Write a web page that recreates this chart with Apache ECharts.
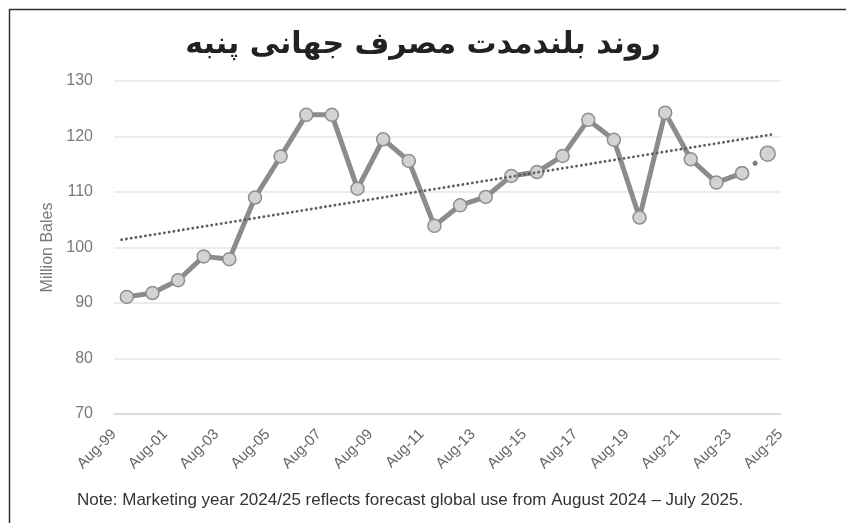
<!DOCTYPE html>
<html>
<head>
<meta charset="utf-8">
<style>
  html, body { margin: 0; padding: 0; background: #fff; }
  #chart { width: 846px; height: 523px; }
</style>
<script src="https://cdn.jsdelivr.net/npm/echarts@6/dist/echarts.min.js"></script>
</head>
<body>
<div id="chart"></div>
<script>
// Marketing years (August–July), world cotton use in million bales
const marketingYears = [
  '1999/00','2000/01','2001/02','2002/03','2003/04','2004/05','2005/06','2006/07',
  '2007/08','2008/09','2009/10','2010/11','2011/12','2012/13','2013/14','2014/15',
  '2015/16','2016/17','2017/18','2018/19','2019/20','2020/21','2021/22','2022/23',
  '2023/24','2024/25'
];
const worldUse = [
  91.1, 91.8, 94.1, 98.4, 97.9, 109.0, 116.4, 123.9,
  123.9, 110.6, 119.5, 115.6, 103.9, 107.6, 109.1, 112.9,
  113.6, 116.5, 123.0, 119.4, 105.4, 124.3, 115.9, 111.7,
  113.4, 116.9
];
// Linear trend, start and end (position in years from Aug-99, value)
const trendX = [0.3, 25.7];
const trendY = [101.4, 120.4];
// Tick labels on the year boundaries, every second year
const tickLabels = ['Aug-99','Aug-01','Aug-03','Aug-05','Aug-07','Aug-09','Aug-11',
                    'Aug-13','Aug-15','Aug-17','Aug-19','Aug-21','Aug-23','Aug-25'];
const yTicks = [70, 80, 90, 100, 110, 120, 130];

const titleText = 'روند بلندمدت مصرف جهانی پنبه';
const noteText = 'Note: Marketing year 2024/25 reflects forecast global use from August 2024 – July 2025.';

// Each marketing year sits in the middle of its year band
const points = worldUse.map((v, i) => [i + 0.5, v]);
const last = points.length - 1;
const actual = points.map((p, i) => (i < last ? p : [p[0], null]));
const forecast = points.map((p, i) => (i >= last - 1 ? p : [p[0], null]));
const trend = trendX.map((x, i) => [x, trendY[i]]);

const axisFont = 'Liberation Sans';
const markerStyle = { color: '#d3d3d3', borderColor: '#8e8e8e', borderWidth: 1.5 };

const chart = echarts.init(document.getElementById('chart'), null, { renderer: 'canvas' });
chart.setOption({
  animation: false,
  backgroundColor: '#fff',
  title: {
    text: titleText,
    left: 'center',
    top: 25,
    textStyle: { fontFamily: 'DejaVu Sans', fontWeight: 'bold', fontSize: 30, color: '#222' }
  },
  grid: { left: 114, right: 65.5, top: 81, bottom: 109 },
  xAxis: {
    type: 'value',
    min: 0,
    max: 26,
    interval: 2,
    axisLine: { show: true, onZero: false, lineStyle: { color: '#d6d6d6', width: 1.5 } },
    axisTick: { show: false },
    splitLine: { show: false },
    axisLabel: {
      rotate: 45,
      margin: 18,
      color: '#666',
      fontFamily: axisFont,
      fontSize: 15,
      formatter: v => tickLabels[v / 2]
    }
  },
  yAxis: {
    type: 'value',
    min: yTicks[0],
    max: yTicks[yTicks.length - 1],
    interval: 10,
    name: 'Million Bales',
    nameLocation: 'middle',
    nameGap: 58,
    nameTextStyle: { color: '#7a7a7a', fontFamily: axisFont, fontSize: 16 },
    axisLine: { show: false },
    axisTick: { show: false },
    axisLabel: { color: '#7a7a7a', fontFamily: axisFont, fontSize: 16, margin: 21 },
    splitLine: { lineStyle: { color: '#e6e6e6', width: 1.5 } }
  },
  series: [
    {
      name: 'World use',
      type: 'line',
      data: actual,
      symbol: 'circle',
      symbolSize: 13,
      itemStyle: markerStyle,
      lineStyle: { color: '#8c8c8c', width: 5 },
      z: 3
    },
    {
      name: 'Forecast',
      type: 'line',
      data: forecast,
      symbol: 'circle',
      symbolSize: (val, p) => (p.dataIndex === last ? 15 : 13),
      itemStyle: markerStyle,
      lineStyle: { color: '#7a7a7a', width: 5, type: [0.1, 16.2], cap: 'round' },
      z: 3
    },
    {
      name: 'Trend',
      type: 'line',
      data: trend,
      symbol: 'none',
      lineStyle: { color: '#5e5e5e', width: 2.8, type: [0.1, 4.7], cap: 'round' },
      z: 4
    }
  ],
  graphic: [
    {
      type: 'polyline',
      shape: { points: [[9.5, 523], [9.5, 9.5], [846, 9.5]] },
      style: { stroke: '#333', lineWidth: 1.5, fill: null }
    },
    {
      type: 'text',
      x: 410,
      y: 500,
      style: {
        text: noteText,
        fill: '#333',
        font: '17px "Liberation Sans"',
        textAlign: 'center',
        textVerticalAlign: 'middle'
      }
    }
  ]
});
</script>
</body>
</html>
